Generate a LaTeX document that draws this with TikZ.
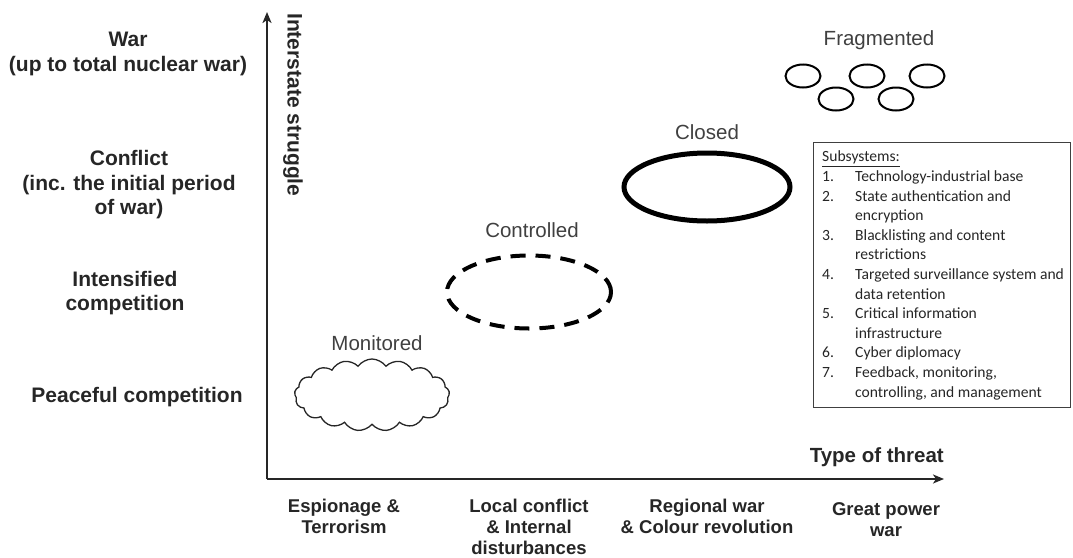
\documentclass[tikz,border=0pt]{standalone}
\usepackage{fontspec}
\setmainfont{Liberation Sans}
\newfontfamily\boxfont{Carlito}
\usetikzlibrary{shapes.symbols,shapes.geometric,arrows.meta}
\begin{document}
\begin{tikzpicture}[x=1pt,y=-1pt,
  lvl/.style={font=\fontsize{21}{24.5}\selectfont\bfseries, align=center, text=black!85},
  cat/.style={font=\fontsize{18.5}{21}\selectfont\bfseries, align=center, text=black!85, anchor=north, inner sep=0pt},
  tag/.style={font=\fontsize{20.5}{23}\selectfont, text=black!75},
  axis/.style={line width=2.2pt, black!85, -{Stealth[length=11pt,width=9pt,inset=3pt]}},
  frag/.style={draw, line width=2pt, ellipse, minimum width=35pt, minimum height=23pt, inner sep=0pt}
]
\useasboundingbox (0,0) rectangle (1073,557);
% axes
\coordinate (O) at (267,479);
\coordinate (Ytop) at (267,12);
\coordinate (Xend) at (944,479);
\draw[axis] (O) -- (Ytop);
\draw[axis] (O) -- (Xend);
\node[rotate=-90, anchor=south west, font=\fontsize{21}{23}\selectfont\bfseries, text=black!85, inner sep=0pt] (ylab) at (283,13) {Interstate struggle};
\node[anchor=south east, font=\fontsize{20.5}{23}\selectfont\bfseries, text=black!85, inner sep=0pt] (xlab) at (944,467) {Type of threat};
% left levels
\node[lvl] (war) at (128,54) {War\\(up to total nuclear war)};
\node[lvl] (conf) at (129,185) {Conflict\\(inc. the initial period\\of war)};
\node[lvl] (int) at (125,293) {Intensified\\competition};
\node[lvl] (peace) at (137,397) {Peaceful competition};
% bottom categories
\node[cat] (esp) at (344,499) {Espionage \&\\Terrorism};
\node[cat] (loc) at (529,499) {Local conflict\\\& Internal\\disturbances};
\node[cat] (reg) at (707,499) {Regional war\\\& Colour revolution};
\node[cat] (gp) at (886,502) {Great power\\war};
% shapes
\node[draw, cloud, cloud puffs=17, cloud puff arc=110, aspect=2.15, line width=1.3pt, black!85, minimum width=155pt, minimum height=72pt] (mon) at (372,395) {};
\node[tag] (monl) at (377,343) {Monitored};
\node[draw, ellipse, dash pattern=on 15pt off 10pt, line width=4pt, minimum width=164pt, minimum height=73pt] (ctrl) at (529,292) {};
\node[tag] (ctrll) at (532,230) {Controlled};
\node[draw, ellipse, line width=5pt, minimum width=166pt, minimum height=68pt] (clo) at (707,187) {};
\node[tag] (clol) at (707,132) {Closed};
\node[tag] (fragl) at (879,40) {Fragmented};
\node[frag] (f1) at (803,76) {};
\node[frag] (f2) at (867,76) {};
\node[frag] (f3) at (927,76) {};
\node[frag] (f4) at (836,99) {};
\node[frag] (f5) at (896,99) {};
% subsystems box
\node[draw, line width=1.1pt, black!75, anchor=north west, minimum width=257pt, minimum height=265pt, inner sep=0pt] (box) at (813,142) {};
\node[anchor=north west, inner sep=0pt, font=\boxfont\fontsize{15.6}{19.6}\selectfont, text=black!85] (boxtext) at (822,148) {%
\begin{tabular}[t]{@{}p{33pt}@{}l@{}}
\multicolumn{2}{@{}l@{}}{\underline{Subsystems:}}\\
1. & Technology-industrial base\\
2. & State authentication and\\
   & encryption\\
3. & Blacklisting and content\\
   & restrictions\\
4. & Targeted surveillance system and\\
   & data retention\\
5. & Critical information\\
   & infrastructure\\
6. & Cyber diplomacy\\
7. & Feedback, monitoring,\\
   & controlling, and management
\end{tabular}};
\end{tikzpicture}
\end{document}
